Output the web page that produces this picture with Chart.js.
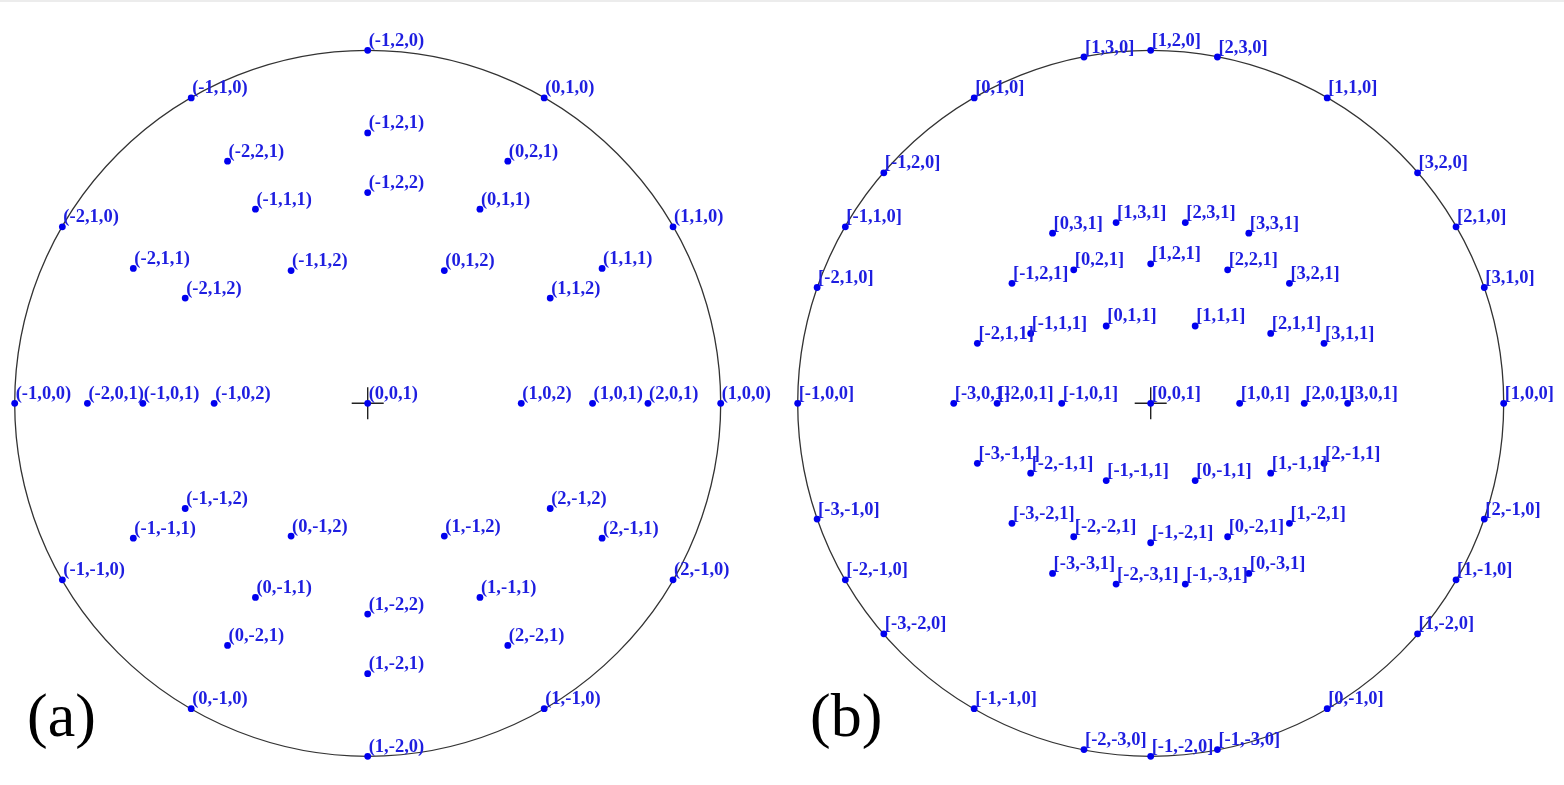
<!DOCTYPE html>
<html>
<head>
<meta charset="utf-8">
<script src="https://cdn.jsdelivr.net/npm/chart.js@4.4.1/dist/chart.umd.min.js"></script>
<style>
    html, body { margin: 0; padding: 0; background: #fff; }
    body { width: 1564px; height: 785px; position: relative; overflow: hidden; }
    .edge { position: absolute; left: 0; top: 0; width: 1564px; height: 2px; background: #ececec; }
    canvas { position: absolute; top: 0; }
    #pole-a { left: 0; }
    #pole-b { left: 782px; }
</style>
</head>
<body>
<div class="edge"></div>
<canvas id="pole-a" width="782" height="785"></canvas>
<canvas id="pole-b" width="782" height="785"></canvas>
<script>
// (a) plane normals, projected coords in units of the primitive radius
const planeLabels = [
    "(-1,2,0)", "(-1,1,0)", "(0,1,0)", "(-1,2,1)", "(-2,2,1)", "(0,2,1)", "(-1,2,2)",
    "(-1,1,1)", "(0,1,1)", "(-2,1,0)", "(1,1,0)", "(-2,1,1)", "(-1,1,2)", "(0,1,2)",
    "(1,1,1)", "(-2,1,2)", "(1,1,2)", "(-1,0,0)", "(-2,0,1)", "(-1,0,1)", "(-1,0,2)",
    "(0,0,1)", "(1,0,2)", "(1,0,1)", "(2,0,1)", "(1,0,0)", "(-1,-1,2)", "(2,-1,2)",
    "(-1,-1,1)", "(0,-1,2)", "(1,-1,2)", "(2,-1,1)", "(-1,-1,0)", "(2,-1,0)", "(0,-1,1)",
    "(1,-1,1)", "(1,-2,2)", "(0,-2,1)", "(2,-2,1)", "(1,-2,1)", "(0,-1,0)", "(1,-1,0)",
    "(1,-2,0)"
];
const planeX = [
    0, -0.5, 0.5, 0, -0.397, 0.397, 0,
    -0.318, 0.318, -0.865, 0.865, -0.664, -0.217, 0.217,
    0.664, -0.517, 0.517, -1, -0.794, -0.637, -0.435,
    0, 0.435, 0.637, 0.794, 1, -0.517, 0.517,
    -0.664, -0.217, 0.217, 0.664, -0.865, 0.865, -0.318,
    0.318, 0, -0.397, 0.397, 0, -0.5, 0.5,
    0
];
const planeY = [
    1, 0.865, 0.865, 0.766, 0.686, 0.686, 0.597,
    0.55, 0.55, 0.5, 0.5, 0.382, 0.376, 0.376,
    0.382, 0.298, 0.298, 0, 0, 0, 0,
    0, 0, 0, 0, 0, -0.298, -0.298,
    -0.382, -0.376, -0.376, -0.382, -0.5, -0.5, -0.55,
    -0.55, -0.597, -0.686, -0.686, -0.766, -0.865, -0.865,
    -1
];

// (b) lattice directions
const dirLabels = [
    "[1,2,0]", "[1,3,0]", "[2,3,0]", "[0,1,0]", "[1,1,0]", "[-1,2,0]", "[3,2,0]",
    "[-1,1,0]", "[2,1,0]", "[-2,1,0]", "[3,1,0]", "[-1,0,0]", "[1,0,0]", "[-3,-1,0]",
    "[2,-1,0]", "[-2,-1,0]", "[1,-1,0]", "[-3,-2,0]", "[1,-2,0]", "[-1,-1,0]", "[0,-1,0]",
    "[-2,-3,0]", "[-1,-3,0]", "[-1,-2,0]",
    "[0,3,1]", "[1,3,1]", "[2,3,1]", "[3,3,1]",
    "[-1,2,1]", "[0,2,1]", "[1,2,1]", "[2,2,1]", "[3,2,1]",
    "[-2,1,1]", "[-1,1,1]", "[0,1,1]", "[1,1,1]", "[2,1,1]", "[3,1,1]",
    "[-3,0,1]", "[-2,0,1]", "[-1,0,1]", "[0,0,1]", "[1,0,1]", "[2,0,1]", "[3,0,1]",
    "[-3,-1,1]", "[-2,-1,1]", "[-1,-1,1]", "[0,-1,1]", "[1,-1,1]", "[2,-1,1]",
    "[-3,-2,1]", "[-2,-2,1]", "[-1,-2,1]", "[0,-2,1]", "[1,-2,1]",
    "[-3,-3,1]", "[-2,-3,1]", "[-1,-3,1]", "[0,-3,1]"
];
const dirX = [
    0, -0.189, 0.189, -0.5, 0.5, -0.756, 0.756,
    -0.865, 0.865, -0.945, 0.945, -1, 1, -0.945,
    0.945, -0.865, 0.865, -0.756, 0.756, -0.5, 0.5,
    -0.189, 0.189, 0,
    -0.278, -0.098, 0.098, 0.278,
    -0.393, -0.218, 0, 0.218, 0.393,
    -0.491, -0.34, -0.126, 0.126, 0.34, 0.491,
    -0.558, -0.435, -0.252, 0, 0.252, 0.435, 0.558,
    -0.491, -0.34, -0.126, 0.126, 0.34, 0.491,
    -0.393, -0.218, 0, 0.218, 0.393,
    -0.278, -0.098, 0.098, 0.278
];
const dirY = [
    1, 0.981, 0.981, 0.865, 0.865, 0.653, 0.653,
    0.5, 0.5, 0.328, 0.328, 0, 0, -0.328,
    -0.328, -0.5, -0.5, -0.653, -0.653, -0.865, -0.865,
    -0.981, -0.981, -1,
    0.482, 0.512, 0.512, 0.482,
    0.34, 0.378, 0.395, 0.378, 0.34,
    0.17, 0.198, 0.219, 0.219, 0.198, 0.17,
    0, 0, 0, 0, 0, 0, 0,
    -0.17, -0.198, -0.219, -0.219, -0.198, -0.17,
    -0.34, -0.378, -0.395, -0.378, -0.34,
    -0.482, -0.512, -0.512, -0.482
];

const R = 353; // primitive circle radius, px

// primitive circle + centre cross, sized from the scales
const primitive = {
    id: "primitive",
    beforeDatasetsDraw(chart) {
        const sx = chart.scales.x, sy = chart.scales.y;
        const cx = sx.getPixelForValue(0), cy = sy.getPixelForValue(0);
        const r = sx.getPixelForValue(1) - cx;
        const ctx = chart.ctx;
        ctx.save();
        ctx.strokeStyle = "#333";
        ctx.lineWidth = 1.3;
        ctx.beginPath();
        ctx.arc(cx, cy, r, 0, Math.PI * 2);
        ctx.stroke();
        ctx.strokeStyle = "#222";
        ctx.lineWidth = 1.4;
        ctx.beginPath();
        ctx.moveTo(cx - 16, cy); ctx.lineTo(cx + 16, cy);
        ctx.moveTo(cx, cy - 16); ctx.lineTo(cx, cy + 16);
        ctx.stroke();
        ctx.restore();
    }
};

// index text next to each pole
const poleText = {
    id: "poleText",
    afterDatasetsDraw(chart, args, opts) {
        const meta = chart.getDatasetMeta(0);
        const names = chart.data.datasets[0].names;
        const ctx = chart.ctx;
        ctx.save();
        ctx.font = 'bold 18.5px "Liberation Serif", "Times New Roman", serif';
        ctx.fillStyle = "#1e1ee0";
        ctx.textBaseline = "alphabetic";
        meta.data.forEach(function (pt, i) {
            ctx.fillText(names[i], pt.x + 1, pt.y - 4.5);
        });
        ctx.font = '62px "Liberation Serif", "Times New Roman", serif';
        ctx.fillStyle = "#000";
        ctx.fillText(opts.tag, opts.tagX, 736);
        ctx.restore();
    }
};

function makePole(id, names, xs, ys, cx, cy, tag, tagX) {
    const canvas = document.getElementById(id);
    const w = canvas.width, h = canvas.height;
    return new Chart(canvas, {
        type: "scatter",
        data: {
            datasets: [{
                names: names,
                data: xs.map(function (x, i) { return { x: x, y: ys[i] }; }),
                pointRadius: 3.4,
                pointBorderWidth: 0,
                pointBackgroundColor: "#0000ee",
                pointHoverRadius: 3.4,
            }],
        },
        options: {
            responsive: false,
            animation: false,
            layout: { padding: 0, autoPadding: false },
            events: [],
            plugins: {
                legend: { display: false },
                tooltip: { enabled: false },
                poleText: { tag: tag, tagX: tagX },
            },
            scales: {
                x: { type: "linear", display: false, min: -cx / R, max: (w - cx) / R },
                y: { type: "linear", display: false, min: -(h - cy) / R, max: cy / R },
            },
        },
        plugins: [primitive, poleText],
    });
}

makePole("pole-a", planeLabels, planeX, planeY, 367.7, 403.3, "(a)", 27);
makePole("pole-b", dirLabels, dirX, dirY, 368.7, 403.3, "(b)", 28);
</script>
</body>
</html>
